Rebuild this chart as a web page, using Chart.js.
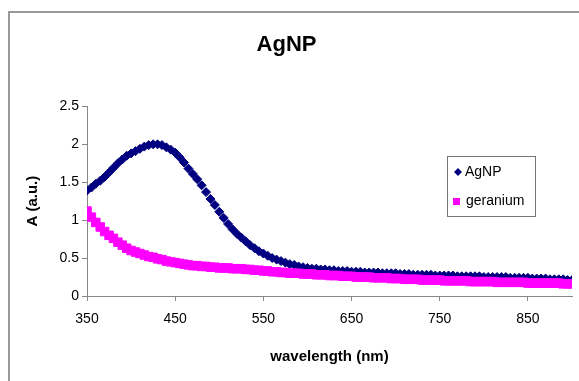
<!DOCTYPE html>
<html>
<head>
<meta charset="utf-8">
<script src="https://cdn.jsdelivr.net/npm/chart.js@4"></script>
<style>
  body { margin: 0; background: #fff; }
  #wrap { position: relative; width: 579px; height: 381px; }
  #frame { position: absolute; left: 8px; top: 11px; width: 600px; height: 400px;
           border-left: 2px solid #999; border-top: 2px solid #999; }
  canvas { position: absolute; left: 0; top: 0; }
</style>
</head>
<body>
<div id="wrap">
  <div id="frame"></div>
  <canvas id="chart" width="579" height="381"></canvas>
</div>
<script>
// wavelength (nm)
const wavelengths = [
  350, 355, 360, 365, 370, 375, 380, 385, 390, 395,
  400, 405, 410, 415, 420, 425, 430, 435, 440, 445,
  450, 455, 460, 465, 470, 475, 480, 485, 490, 495,
  500, 505, 510, 515, 520, 525, 530, 535, 540, 545,
  550, 555, 560, 565, 570, 575, 580, 585, 590, 595,
  600, 605, 610, 615, 620, 625, 630, 635, 640, 645,
  650, 655, 660, 665, 670, 675, 680, 685, 690, 695,
  700, 705, 710, 715, 720, 725, 730, 735, 740, 745,
  750, 755, 760, 765, 770, 775, 780, 785, 790, 795,
  800, 805, 810, 815, 820, 825, 830, 835, 840, 845,
  850, 855, 860, 865, 870, 875, 880, 885, 890, 895,
  900,
];

// absorbance, AgNP
const agnp = [
  1.39, 1.43, 1.48, 1.52, 1.57, 1.63, 1.69, 1.75, 1.80, 1.85,
  1.88, 1.91, 1.94, 1.97, 1.99, 2.00, 2.00, 1.99, 1.96, 1.93,
  1.89, 1.83, 1.76, 1.68, 1.61, 1.54, 1.46, 1.37, 1.28, 1.20,
  1.11, 1.03, 0.95, 0.88, 0.82, 0.77, 0.72, 0.67, 0.63, 0.59,
  0.56, 0.53, 0.50, 0.48, 0.46, 0.44, 0.42, 0.41, 0.39, 0.38,
  0.37, 0.36, 0.36, 0.35, 0.35, 0.34, 0.34, 0.33, 0.33, 0.33,
  0.32, 0.32, 0.32, 0.31, 0.31, 0.31, 0.31, 0.30, 0.30, 0.30,
  0.30, 0.29, 0.29, 0.29, 0.28, 0.28, 0.28, 0.28, 0.28, 0.27,
  0.27, 0.27, 0.27, 0.27, 0.26, 0.26, 0.26, 0.26, 0.26, 0.26,
  0.25, 0.25, 0.25, 0.25, 0.25, 0.25, 0.24, 0.24, 0.24, 0.24,
  0.24, 0.23, 0.23, 0.23, 0.23, 0.22, 0.22, 0.22, 0.22, 0.21,
  0.21,
];

// absorbance, geranium
const geranium = [
  1.12, 1.04, 0.97, 0.91, 0.85, 0.80, 0.76, 0.71, 0.67, 0.63,
  0.60, 0.58, 0.56, 0.54, 0.52, 0.51, 0.49, 0.48, 0.46, 0.45,
  0.44, 0.43, 0.42, 0.41, 0.40, 0.40, 0.39, 0.39, 0.38, 0.38,
  0.37, 0.37, 0.37, 0.36, 0.36, 0.36, 0.35, 0.35, 0.34, 0.34,
  0.33, 0.33, 0.32, 0.32, 0.31, 0.31, 0.30, 0.30, 0.30, 0.29,
  0.29, 0.29, 0.28, 0.28, 0.28, 0.27, 0.27, 0.27, 0.26, 0.26,
  0.26, 0.25, 0.25, 0.25, 0.25, 0.24, 0.24, 0.24, 0.24, 0.23,
  0.23, 0.23, 0.22, 0.22, 0.22, 0.22, 0.21, 0.21, 0.21, 0.21,
  0.21, 0.20, 0.20, 0.20, 0.20, 0.20, 0.20, 0.19, 0.19, 0.19,
  0.19, 0.19, 0.19, 0.18, 0.18, 0.18, 0.18, 0.18, 0.18, 0.18,
  0.17, 0.17, 0.17, 0.17, 0.17, 0.17, 0.17, 0.17, 0.16, 0.16,
  0.16,
];

const xTicks = [350, 450, 550, 650, 750, 850];
const seriesNames = ["AgNP", "geranium"];
const seriesColors = ["#000080", "#ff00ff"];

const fontFamily = "'Liberation Sans', Arial, sans-serif";

function toPoints(values) {
  return values.map((v, i) => ({ x: wavelengths[i], y: v }));
}

// legend box drawn inside the plot, like the excel one
const boxLegend = {
  id: "boxLegend",
  afterDraw(chart) {
    const ctx = chart.ctx;
    ctx.save();
    ctx.strokeStyle = "#777";
    ctx.lineWidth = 1;
    ctx.strokeRect(447.5, 156.5, 88, 60);
    ctx.font = "14px " + fontFamily;
    ctx.textBaseline = "middle";

    // diamond
    ctx.fillStyle = seriesColors[0];
    ctx.beginPath();
    ctx.moveTo(458, 168);
    ctx.lineTo(462, 172);
    ctx.lineTo(458, 176);
    ctx.lineTo(454, 172);
    ctx.closePath();
    ctx.fill();
    ctx.fillStyle = "#000";
    ctx.fillText(seriesNames[0], 465, 172);

    // square
    ctx.fillStyle = seriesColors[1];
    ctx.fillRect(453, 198, 7, 7);
    ctx.fillStyle = "#000";
    ctx.fillText(seriesNames[1], 466, 201);
    ctx.restore();
  },
};

const chart = new Chart("chart", {
  type: "scatter",
  data: {
    datasets: [
      {
        label: seriesNames[0],
        data: toPoints(agnp),
        pointStyle: "rectRot",
        pointRadius: 4.5,
        pointBorderWidth: 1,
        backgroundColor: seriesColors[0],
        borderColor: seriesColors[0],
        order: 2,
      },
      {
        label: seriesNames[1],
        data: toPoints(geranium),
        pointStyle: "rect",
        pointRadius: 6,
        pointBorderWidth: 1,
        backgroundColor: seriesColors[1],
        borderColor: seriesColors[1],
        order: 1,
      },
    ],
  },
  options: {
    responsive: false,
    animation: false,
    devicePixelRatio: 1,
    layout: { padding: { left: 0, right: 6, top: 0, bottom: 0 } },
    plugins: {
      legend: { display: false },
      tooltip: { enabled: false },
      title: {
        display: true,
        text: "AgNP",
        color: "#000",
        font: { family: fontFamily, size: 22, weight: "bold" },
        padding: { top: 32, bottom: 48 },
      },
    },
    scales: {
      x: {
        type: "linear",
        min: 350,
        max: 900,
        afterBuildTicks: (scale) => {
          scale.ticks = xTicks.map((v) => ({ value: v }));
        },
        afterFit: (scale) => {
          scale.height = 85;
        },
        grid: { drawOnChartArea: false, drawTicks: true, tickLength: 5, color: "#888" },
        border: { display: true, color: "#888" },
        ticks: {
          color: "#000",
          padding: 10,
          maxRotation: 0,
          font: { family: fontFamily, size: 14 },
        },
        title: {
          display: true,
          text: "wavelength (nm)",
          color: "#000",
          font: { family: fontFamily, size: 15, weight: "bold" },
          padding: { top: 0, bottom: 15 },
        },
      },
      y: {
        min: 0,
        max: 2.5,
        afterFit: (scale) => {
          scale.width = 87;
        },
        grid: { drawOnChartArea: false, drawTicks: true, tickLength: 5, color: "#888" },
        border: { display: true, color: "#888" },
        ticks: {
          stepSize: 0.5,
          color: "#000",
          padding: 3,
          font: { family: fontFamily, size: 14 },
          callback: (v) => String(v),
        },
        title: {
          display: true,
          text: "A (a.u.)",
          color: "#000",
          font: { family: fontFamily, size: 15, weight: "bold" },
          padding: { top: 24, bottom: 0 },
        },
      },
    },
  },
  plugins: [boxLegend],
});
</script>
</body>
</html>
